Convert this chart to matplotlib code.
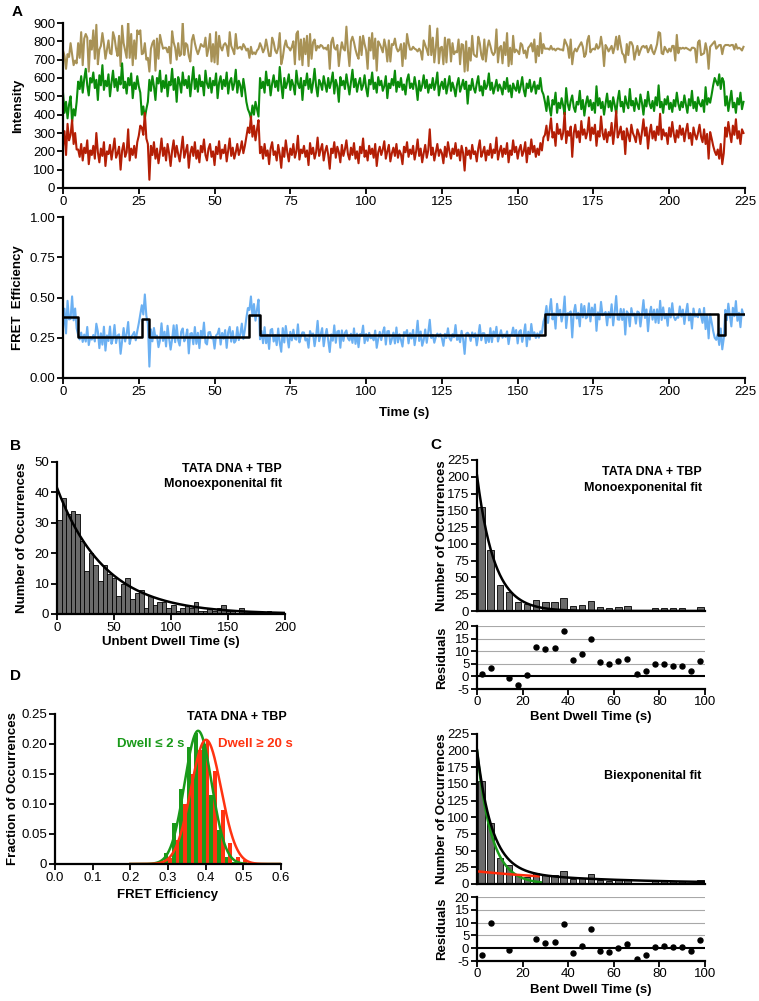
import numpy as np
import matplotlib
matplotlib.use("Agg")
import matplotlib.pyplot as plt

plt.rcParams['font.family'] = ['Liberation Sans', 'DejaVu Sans']
plt.rcParams['axes.unicode_minus'] = False
plt.rcParams['font.size'] = 9

# ---------------- A: single-molecule trace, one sample per 0.5 s ----------------
frame_time = 0.5
donor = [
    # 0-5 s (bent)
    520, 410, 470, 380, 455, 500, 360, 430, 395, 470,
    # 5-26 s
    580, 540, 610, 520, 595, 650, 560, 505, 600, 575,
    630, 545, 590, 480, 615, 560, 670, 535, 585, 555,
    620, 500, 575, 640, 550, 595, 530, 605, 565, 680,
    545, 580, 515, 600, 560, 625, 490, 575, 540, 610,
    555, 520,
    # 26-28.5 s
    400, 445, 380, 430, 470,
    # 28.5-61.5 s
    590, 530, 610, 555, 480, 600, 570, 640, 525, 585,
    545, 615, 500, 580, 560, 650, 535, 595, 470, 605,
    575, 520, 630, 560, 590, 545, 610, 500, 580, 660,
    540, 595, 525, 615, 555, 580, 505, 640, 570, 545,
    600, 520, 585, 560, 625, 490, 575, 610, 540, 590,
    555, 630, 515, 580, 600, 535, 570, 645, 520, 585,
    560, 500, 595, 540, 470, 430,
    # 61.5-65 s
    410, 380, 450, 400, 470, 430, 390,
    # 65-159 s
    600, 545, 580, 520, 635, 560, 590, 505, 570, 615,
    550, 585, 530, 660, 565, 490, 600, 545, 575, 620,
    535, 590, 560, 510, 640, 570, 545, 600, 480, 585,
    560, 625, 540, 595, 520, 575, 650, 555, 500, 590,
    570, 535, 610, 565, 525, 600, 545, 580, 630, 515,
    590, 555, 470, 605, 560, 585, 540, 620, 565, 510,
    580, 645, 550, 595, 525, 570, 600, 535, 560, 615,
    545, 500, 590, 565, 630, 540, 575, 520, 605, 560,
    585, 530, 555, 610, 490, 570, 545, 595, 560, 640,
    525, 580, 550, 600, 535, 565, 510, 590, 620, 545,
    570, 540, 605, 555, 480, 585, 530, 560, 615, 545,
    590, 520, 565, 545, 600, 535, 570, 630, 505, 555,
    580, 540, 595, 515, 560, 610, 530, 575, 545, 500,
    565, 600, 525, 555, 590, 540, 580, 460, 560, 535,
    595, 545, 520, 570, 610, 530, 555, 505, 585, 540,
    560, 625, 535, 575, 515, 550, 590, 530, 565, 545,
    510, 580, 540, 600, 525, 560, 495, 570, 545, 530,
    585, 520, 555, 605, 535, 500, 570, 545, 590, 525,
    550, 580, 515, 560, 540, 600, 530, 510,
    # 159-216 s
    470, 420, 500, 440, 395, 480, 455, 520, 410, 465,
    435, 490, 450, 400, 545, 460, 425, 475, 505, 440,
    415, 470, 455, 530, 430, 480, 395, 460, 500, 445,
    480, 425, 465, 410, 555, 450, 490, 435, 470, 400,
    460, 515, 440, 475, 420, 495, 455, 405, 480, 530,
    445, 470, 415, 500, 460, 435, 540, 450, 475, 420,
    490, 455, 430, 510, 465, 400, 480, 445, 525, 460,
    435, 475, 420, 495, 450, 560, 440, 470, 410, 485,
    455, 500, 430, 465, 415, 480, 445, 520, 460, 425,
    470, 440, 505, 455, 410, 485, 450, 530, 435, 470,
    420, 495, 460, 445, 480, 415, 550, 455, 490, 465,
    510, 560, 600, 580,
    # 216-218.5 s
    560, 620, 540, 600, 580,
    # 218.5-225 s
    450, 500, 420, 475, 530, 440, 465, 410, 490, 455, 520, 430, 470,
]
acceptor = [
    230, 310, 180, 350, 260, 290, 370, 240, 300, 210,
    210, 170, 240, 150, 220, 190, 260, 130, 205, 180,
    230, 160, 300, 195, 140, 215, 175, 250, 120, 200,
    185, 235, 155, 210, 270, 165, 190, 225, 100, 205,
    245, 170, 195, 320, 150, 215, 180, 230, 165, 250,
    285, 340,
    330, 290, 410, 270, 240,
    45, 230, 180, 250, 160, 215, 135, 195, 270, 175,
    220, 150, 240, 190, 120, 205, 260, 170, 230, 185,
    145, 210, 280, 165, 200, 235, 110, 190, 225, 175,
    250, 160, 205, 140, 230, 195, 265, 180, 150, 215,
    240, 170, 200, 125, 225, 185, 255, 160, 210, 190,
    235, 145, 205, 270, 175, 220, 160, 195, 240, 180,
    210, 255, 190, 230, 280, 330,
    300, 390, 280, 340, 260, 320, 370,
    190, 225, 160, 240, 175, 205, 130, 215, 250, 180,
    200, 150, 235, 185, 110, 220, 170, 260, 195, 145,
    215, 180, 240, 165, 200, 285, 155, 210, 190, 230,
    170, 205, 125, 245, 185, 220, 160, 195, 275, 175,
    210, 240, 150, 200, 230, 180, 105, 215, 190, 250,
    165, 225, 195, 140, 235, 175, 210, 260, 185, 155,
    220, 180, 245, 160, 200, 135, 225, 190, 270, 170,
    205, 150, 230, 185, 215, 165, 240, 120, 195, 225,
    180, 210, 255, 160, 200, 235, 145, 190, 220, 175,
    240, 165, 205, 185, 130, 225, 195, 250, 170, 210,
    185, 230, 155, 200, 265, 175, 215, 140, 190, 235,
    165, 205, 320, 180, 220, 150, 195, 240, 175, 210,
    190, 135, 225, 170, 250, 200, 160, 215, 185, 245,
    175, 210, 150, 230, 190, 95, 220, 180, 205, 160,
    235, 185, 200, 145, 215, 260, 170, 195, 225, 150,
    205, 180, 240, 165, 210, 190, 275, 155, 200, 230,
    170, 215, 185, 245, 140, 205, 180, 260, 195, 225,
    160, 210, 235, 175, 200, 250, 140, 220, 185, 265,
    195, 230, 170, 215, 180, 245, 205, 275,
    290, 340, 260, 315, 380, 275, 305, 230, 350, 295,
    320, 265, 300, 410, 245, 310, 285, 335, 170, 300,
    345, 275, 310, 250, 365, 290, 320, 270, 305, 385,
    260, 330, 295, 345, 230, 310, 280, 390, 300, 265,
    320, 250, 305, 285, 355, 240, 315, 420, 275, 300,
    335, 265, 310, 185, 325, 290, 255, 345, 300, 280,
    250, 320, 295, 240, 305, 375, 285, 330, 215, 300,
    345, 270, 310, 260, 335, 290, 405, 265, 320, 285,
    300, 240, 330, 280, 360, 295, 250, 315, 275, 340,
    290, 325, 255, 310, 350, 270, 300, 235, 330, 290,
    265, 300, 345, 280, 250, 320, 240, 295, 160, 305,
    270, 230, 200, 180,
    210, 160, 240, 130, 190,
    330, 280, 360, 300, 250, 340, 290, 375, 270, 310, 240, 320, 300,
]
# idealized (step) fit of the FRET trace
step_times = [0, 5, 26, 28.5, 61.5, 65, 159, 216, 218.5, 225]
step_levels = [0.38, 0.255, 0.365, 0.255, 0.39, 0.265, 0.40, 0.265, 0.40]

# ---------------- B: unbent dwell times ----------------
unbent_bin = 4
unbent_counts = [31, 38, 33, 34, 33, 24, 14, 20, 16, 11,
                 16, 13, 12, 6, 10, 12, 5, 7, 8, 2,
                 6, 3, 4, 4, 2, 3, 1, 2, 3, 2,
                 4, 1, 1, 2, 1, 2, 3, 1, 1, 0,
                 2, 1, 0, 1, 0, 0, 1, 0, 0, 0]
unbent_fit = (41.5, 42.0)          # amplitude, tau (s)

# ---------------- C: bent dwell times ----------------
bent_bin = 4
bent_counts = [155, 91, 39, 28, 13, 10, 17, 14, 13, 19,
               7, 9, 15, 6, 5, 6, 7, 1, 2, 5,
               5, 4, 4, 2, 6]
bent_mono_fit = (202, 7.6)
bent_fast_fit = (182, 6.6)
bent_slow_fit = (19, 55)
fast_component = (200, 6.4)
mono_res_t = [2, 6, 14, 18, 22, 26, 30, 34, 38, 42, 46, 50, 54, 58, 62, 66,
              70, 74, 78, 82, 86, 90, 94, 98]
mono_res = [1.0, 3.5, -0.7, -3.4, 0.6, 11.6, 11.0, 11.4, 18.0, 6.5, 8.8, 14.9,
            5.9, 5.0, 6.0, 7.0, 1.0, 2.1, 5.1, 5.1, 4.2, 4.2, 2.1, 6.1]
bi_res_t = [2, 6, 14, 26, 30, 34, 38, 42, 46, 50, 54, 58, 62, 66,
            70, 74, 78, 82, 86, 90, 94, 98]
bi_res = [-2.6, 9.8, -0.6, 3.6, 2.2, 2.5, 9.3, -1.8, 0.8, 7.5, -0.9, -1.4,
          0.0, 1.5, -4.1, -2.7, 0.6, 0.9, 0.3, 0.5, -1.0, 3.1]

# ---------------- D: FRET histograms ----------------
fret_bins = [0.28, 0.30, 0.32, 0.34, 0.36, 0.38, 0.40, 0.42, 0.44, 0.46, 0.48, 0.50]
short_frac = [0.004, 0.018, 0.068, 0.125, 0.195, 0.218, 0.200, 0.115, 0.056, 0.012, 0.003, 0.0]
long_frac = [0.002, 0.010, 0.040, 0.100, 0.150, 0.190, 0.205, 0.155, 0.090, 0.035, 0.012, 0.006]
short_gauss = (0.222, 0.380, 0.036)  # peak, mean, sd
long_gauss = (0.207, 0.401, 0.040)

TAN, GREEN, DKRED, BLUE = '#a89256', '#0a8c0a', '#b41e05', '#6bb0f2'
BAR = '#6b6b6b'
LGREEN, LRED = '#1a9a1a', '#ff3311'
TICK_FS, LABEL_FS, NOTE_FS = 9.5, 9.5, 9

W, H = 759, 1001


def rect(x0, x1, ytop, ybot):
    return [x0 / W, 1 - ybot / H, (x1 - x0) / W, (ybot - ytop) / H]


def prism(ax):
    for side in ("top", "right"):
        ax.spines[side].set_visible(False)
    for side in ("left", "bottom"):
        ax.spines[side].set_linewidth(1.6)
    ax.tick_params(direction="out", length=4, width=1.3, labelsize=TICK_FS, pad=1.5)


def ylab(ax, text, x):
    ax.set_ylabel(text, fontweight="bold", fontsize=LABEL_FS)
    ax.yaxis.set_label_coords(x, 0.5)


def xlab(ax, text, y):
    ax.set_xlabel(text, fontweight="bold", fontsize=LABEL_FS)
    ax.xaxis.set_label_coords(0.5, y)


fig = plt.figure(figsize=(W / 100, H / 100), dpi=100)

donor = np.array(donor, float)
acceptor = np.array(acceptor, float)
t = np.arange(len(donor)) * frame_time

# A intensity
ax = fig.add_axes(rect(63, 745, 23, 188))
ax.plot(t, donor + acceptor, color=TAN, lw=1.5)
ax.plot(t, donor, color=GREEN, lw=1.5)
ax.plot(t, acceptor, color=DKRED, lw=1.5)
ax.set_xlim(0, 225)
ax.set_ylim(0, 900)
ax.set_xticks(range(0, 226, 25))
ax.set_yticks(range(0, 901, 100))
prism(ax)
ylab(ax, "Intensity", -0.057)

# A FRET
ax = fig.add_axes(rect(63, 745, 217, 378))
ax.plot(t, acceptor / (donor + acceptor), color=BLUE, lw=1.5)
ax.step(step_times, step_levels + [step_levels[-1]], where="post", color="k", lw=1.8)
ax.set_xlim(0, 225)
ax.set_ylim(0, 1)
ax.set_xticks(range(0, 226, 25))
ax.set_yticks([0, 0.25, 0.5, 0.75, 1.0])
ax.set_yticklabels(["0.00", "0.25", "0.50", "0.75", "1.00"])
prism(ax)
ylab(ax, "FRET  Efficiency", -0.057)
xlab(ax, "Time (s)", -0.18)

# B
ax = fig.add_axes(rect(57, 285, 462, 614))
edges = np.arange(len(unbent_counts)) * unbent_bin
ax.bar(edges, unbent_counts, width=unbent_bin, align="edge", color=BAR,
       edgecolor="k", lw=0.6)
tt = np.linspace(0, 200, 300)
ax.plot(tt, unbent_fit[0] * np.exp(-tt / unbent_fit[1]), color="k", lw=1.8)
ax.set_xlim(0, 200)
ax.set_ylim(0, 50)
ax.set_xticks([0, 50, 100, 150, 200])
ax.set_yticks(range(0, 51, 10))
prism(ax)
ylab(ax, "Number of Occurrences", -0.127)
xlab(ax, "Unbent Dwell Time (s)", -0.145)
ax.text(0.987, 0.954, "TATA DNA + TBP", transform=ax.transAxes, ha="right",
        va="center", fontweight="bold", fontsize=NOTE_FS)
ax.text(0.987, 0.855, "Monoexponenital fit", transform=ax.transAxes, ha="right",
        va="center", fontweight="bold", fontsize=NOTE_FS)


def bent_hist(ax):
    centers = np.arange(len(bent_counts)) * bent_bin + bent_bin / 2
    ax.bar(centers, bent_counts, width=bent_bin * 0.7, color=BAR, edgecolor="k", lw=0.6)
    ax.set_xlim(0, 100)
    ax.set_ylim(0, 225)
    ax.set_yticks(range(0, 226, 25))
    ax.set_xticks([])
    prism(ax)
    ylab(ax, "Number of Occurrences", -0.127)


def residual_axes(ax, rt, rv):
    for g in (5, 10, 15, 20):
        ax.axhline(g, color="#a8a8a8", lw=0.8, zorder=0)
    ax.axhline(0, color="k", lw=1.5, zorder=1)
    ax.plot(rt, rv, "o", color="k", ms=3.6, zorder=3)
    ax.set_xlim(0, 100)
    ax.set_ylim(-5, 20)
    ax.set_yticks([-5, 0, 5, 10, 15, 20])
    ax.set_xticks(range(0, 101, 20))
    prism(ax)
    ax.tick_params(axis="x", pad=1)
    ylab(ax, "Residuals", -0.127)


tt = np.linspace(0, 100, 400)

# C mono
ax = fig.add_axes(rect(477, 705, 460, 611))
bent_hist(ax)
ax.plot(tt, bent_mono_fit[0] * np.exp(-tt / bent_mono_fit[1]), color="k", lw=1.8)
ax.text(0.987, 0.92, "TATA DNA + TBP", transform=ax.transAxes, ha="right",
        va="center", fontweight="bold", fontsize=NOTE_FS)
ax.text(0.987, 0.815, "Monoexponenital fit", transform=ax.transAxes, ha="right",
        va="center", fontweight="bold", fontsize=NOTE_FS)
ax = fig.add_axes(rect(477, 705, 626, 689))
residual_axes(ax, mono_res_t, mono_res)
xlab(ax, "Bent Dwell Time (s)", -0.35)

# C biexponential
ax = fig.add_axes(rect(477, 705, 734, 884))
bent_hist(ax)
tf = np.linspace(0, 28, 200)
ax.plot(tf, fast_component[0] * np.exp(-tf / fast_component[1]), color=LGREEN, lw=1.8)
ts = np.linspace(0.5, 27, 100)
ax.plot(ts, bent_slow_fit[0] * np.exp(-ts / bent_slow_fit[1]), color='#ff2a0a', lw=1.8)
ax.plot(tt, bent_fast_fit[0] * np.exp(-tt / bent_fast_fit[1])
        + bent_slow_fit[0] * np.exp(-tt / bent_slow_fit[1]), color="k", lw=1.8)
ax.text(0.982, 0.72, "Biexponenital fit", transform=ax.transAxes, ha="right",
        va="center", fontweight="bold", fontsize=NOTE_FS)
ax = fig.add_axes(rect(477, 705, 897, 961))
residual_axes(ax, bi_res_t, bi_res)
xlab(ax, "Bent Dwell Time (s)", -0.36)

# D
ax = fig.add_axes(rect(55, 281, 714, 864))
fb = np.array(fret_bins)
ax.bar(fb - 0.005, short_frac, width=0.01, color=LGREEN, lw=0)
ax.bar(fb + 0.005, long_frac, width=0.01, color=LRED, lw=0)
xe = np.linspace(0.2, 0.6, 300)
for (peak, mu, sd), col in ((short_gauss, LGREEN), (long_gauss, LRED)):
    ax.plot(xe, peak * np.exp(-0.5 * ((xe - mu) / sd) ** 2), color=col, lw=1.8)
ax.set_xlim(0, 0.6)
ax.set_ylim(0, 0.25)
ax.set_xticks([0, 0.1, 0.2, 0.3, 0.4, 0.5, 0.6])
ax.set_xticklabels(["0.0", "0.1", "0.2", "0.3", "0.4", "0.5", "0.6"])
ax.set_yticks([0, 0.05, 0.10, 0.15, 0.20, 0.25])
ax.set_yticklabels(["0", "0.05", "0.10", "0.15", "0.20", "0.25"])
prism(ax)
ylab(ax, "Fraction of Occurrences", -0.159)
xlab(ax, "FRET Efficiency", -0.167)
ax.text(1.027, 0.98, "TATA DNA + TBP", transform=ax.transAxes, ha="right",
        va="center", fontweight="bold", fontsize=NOTE_FS)
ax.text(0.425, 0.80, "Dwell \u2264 2 s", transform=ax.transAxes, ha="center",
        va="center", fontweight="bold", fontsize=9.5, color=LGREEN)
ax.text(0.887, 0.80, "Dwell \u2265 20 s", transform=ax.transAxes, ha="center",
        va="center", fontweight="bold", fontsize=9.5, color=LRED)

for letter, x, y in (("A", 12, 12), ("B", 10, 446), ("C", 430, 445), ("D", 10, 676)):
    fig.text(x / W, 1 - y / H, letter, fontweight="bold", fontsize=11,
             ha="left", va="center")

fig.savefig("out.png", dpi=100)
